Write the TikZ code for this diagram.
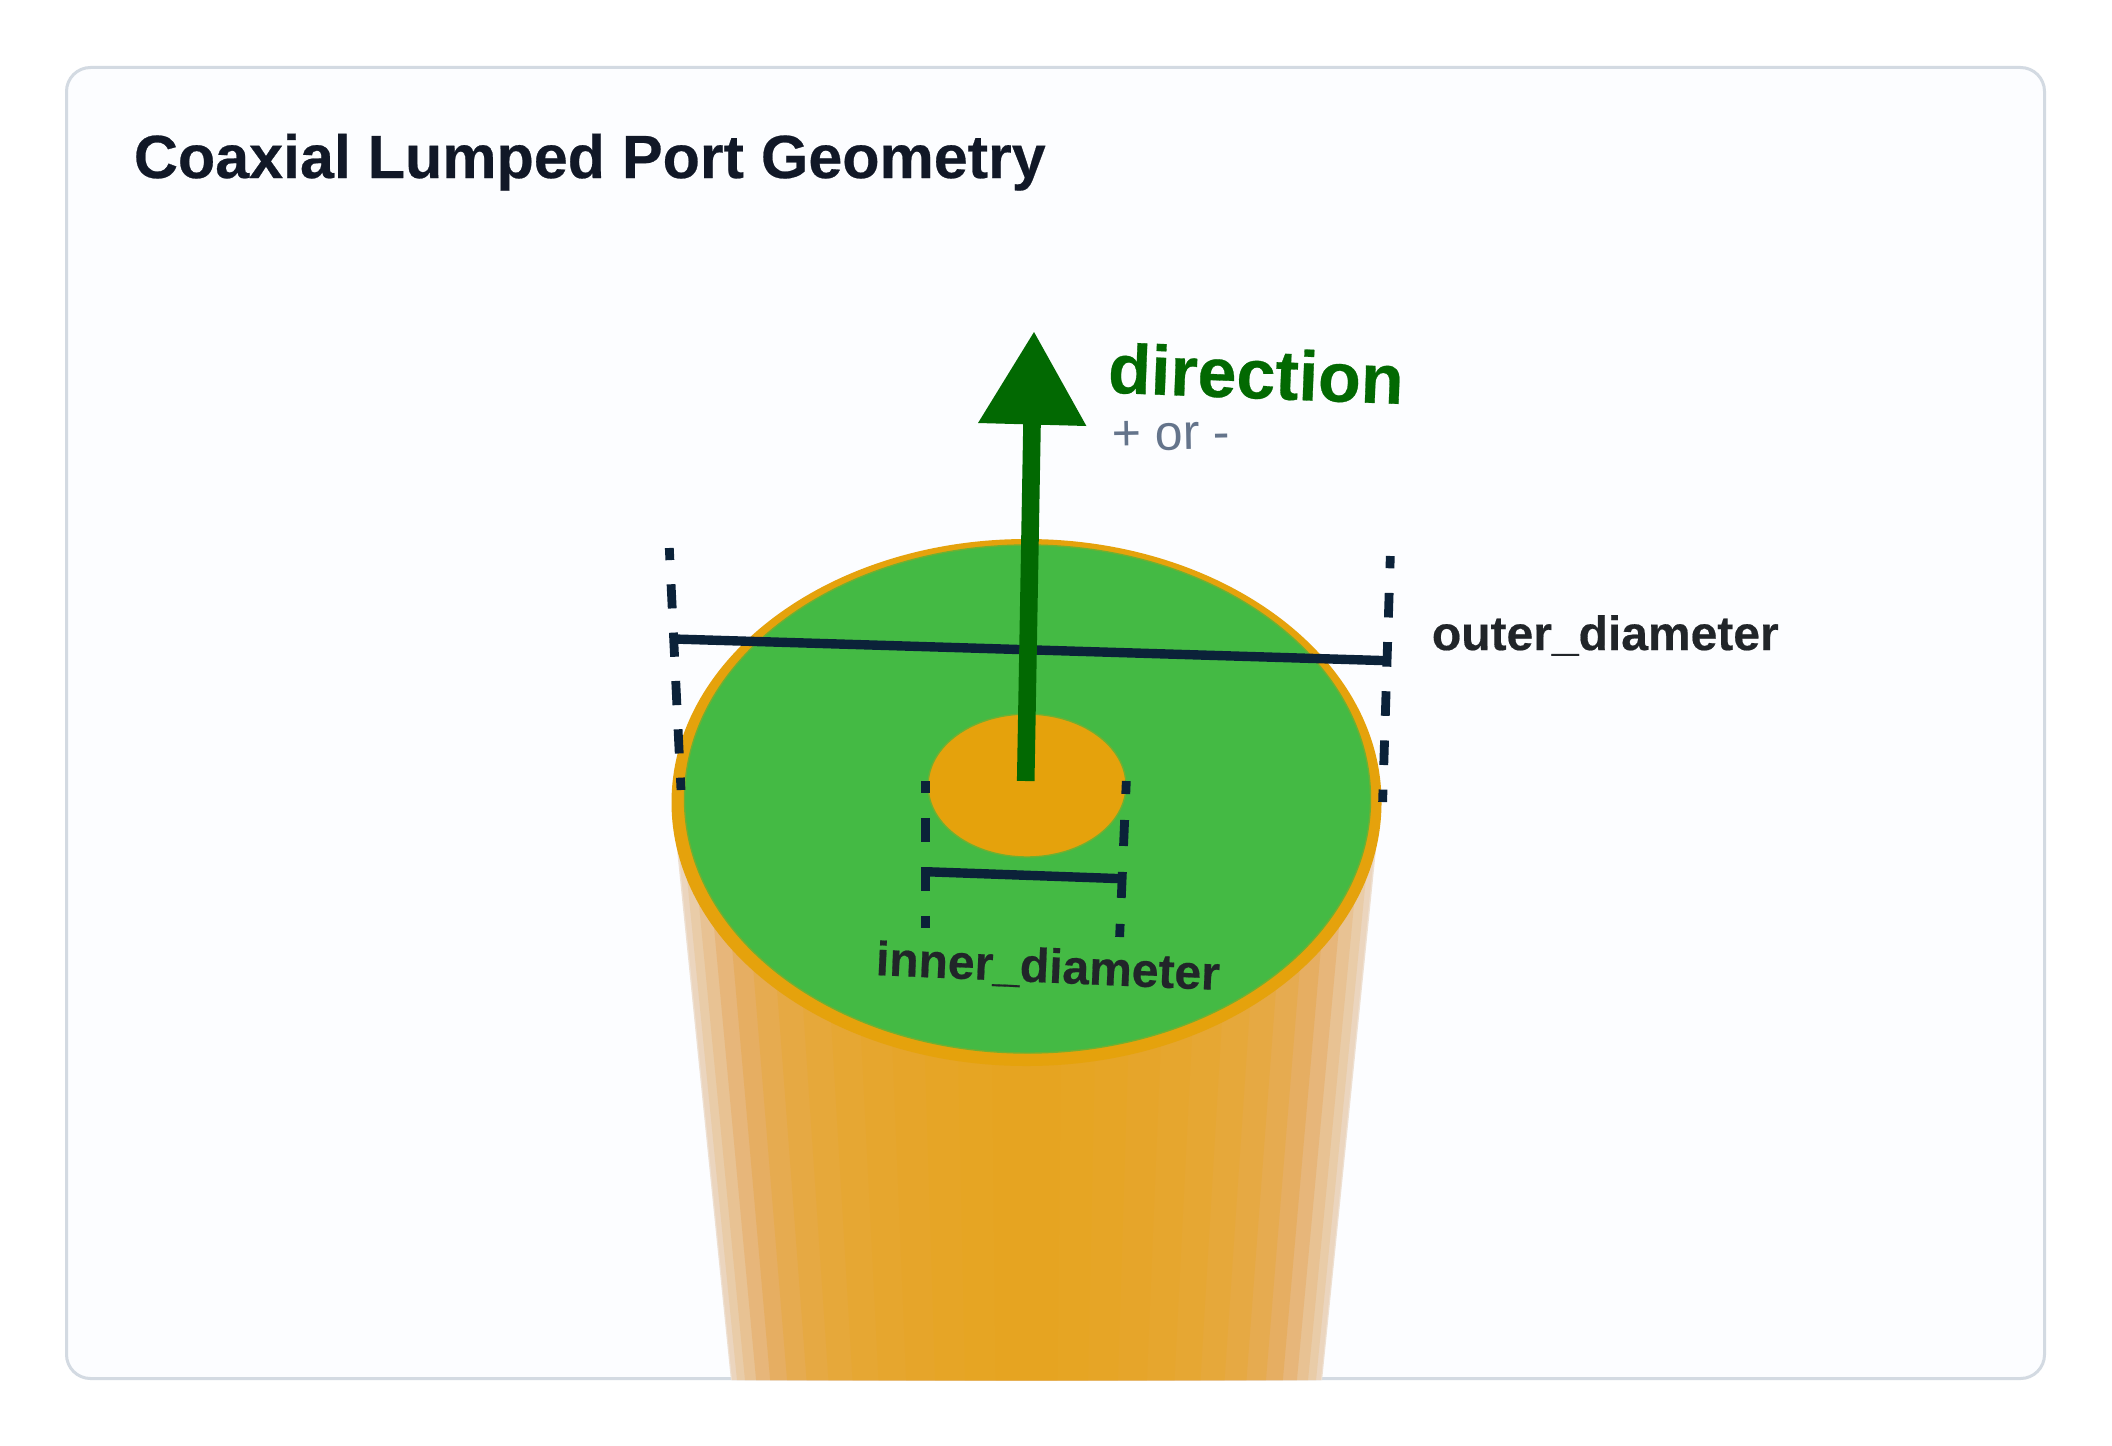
\documentclass[tikz,border=0pt]{standalone}
\usepackage{fontspec}
\setmainfont{Liberation Sans}
\newfontfamily\heavyfont[BoldFont={Liberation Sans Bold},BoldFeatures={FakeBold=0.4}]{Liberation Sans}
\definecolor{cardfill}{HTML}{FCFDFF}
\definecolor{cardline}{HTML}{D3DAE2}
\definecolor{copper}{HTML}{E5A20C}
\definecolor{gapgreen}{HTML}{44BA44}
\definecolor{gapedge}{HTML}{6FB030}
\definecolor{arrowgreen}{HTML}{026902}
\definecolor{dimnavy}{HTML}{0B2239}
\definecolor{labelink}{HTML}{212529}
\definecolor{subink}{HTML}{64748B}
\definecolor{titleink}{HTML}{111827}
\tikzset{
  card/.style={draw=cardline,line width=1.5pt,fill=cardfill,rounded corners=12pt},
  dimline/.style={draw=dimnavy,line width=4.4pt},
  dimmain/.style={draw=dimnavy,line width=4.7pt},
  titletext/.style={inner sep=0pt,anchor=base west,text=titleink,font=\heavyfont\fontsize{30.5}{34}\selectfont\bfseries},
  dimtext/.style={inner sep=0pt,anchor=base west,text=labelink,font=\heavyfont\fontsize{24}{28}\selectfont\bfseries},
  dirtext/.style={inner sep=0pt,anchor=base west,text=arrowgreen,font=\heavyfont\fontsize{35}{38}\selectfont\bfseries},
  subtext/.style={inner sep=0pt,anchor=base west,text=subink,font=\fontsize{25}{28}\selectfont},
}
\begin{document}
\begin{tikzpicture}[x=0.5pt,y=-0.5pt]
\useasboundingbox (0,0) rectangle (2112,1445);
\fill[white] (0,0) rectangle (2112,1445);
\draw[card] (66.5,67.5) rectangle (2044.5,1378.5);
% cylinder: nested trapezoids, lightest outside
\foreach \th/\hx in {87/EEE0D2,84/EBD5BE,78/E9CCA8,72/E8C293,66/E7B67A,60/E6AE62,54/E6AB50,48/E6A943,42/E6A83A,36/E6A733,30/E6A62E,24/E6A52A,18/E6A526,12/E6A523,6/E6A421}{
  \pgfmathsetmacro{\sn}{sin(\th)}
  \pgfmathsetmacro{\xt}{355*\sn}
  \pgfmathsetmacro{\xb}{296*\sn}
  \definecolor{stripc}{HTML}{\hx}
  \fill[stripc] (1026.5-\xt,800) -- (1026.5+\xt,800) -- (1026.5+\xb,1380) -- (1026.5-\xb,1380) -- cycle;
}
% end face
\fill[copper] (1026.5,802.5) ellipse [x radius=355,y radius=263.5];
\filldraw[fill=gapgreen,draw=gapedge,line width=0.7pt] (1027.5,799) ellipse [x radius=343,y radius=254];
\filldraw[fill=copper,draw=gapedge,line width=0.7pt] (1027,785.5) ellipse [x radius=99,y radius=71.5];
% outer dimension
\coordinate (oa) at (669.3,548);
\coordinate (ob) at (681,790);
\coordinate (oc) at (1390.3,556);
\coordinate (od) at (1382.6,802);
\coordinate (oe) at (673.7,639);
\coordinate (of) at (1387.4,660.7);
\draw[dimline,dash pattern=on 12.1pt off 12.1pt,dash phase=6.05pt] (oa) -- (ob);
\draw[dimline,dash pattern=on 12.3pt off 12.3pt,dash phase=6.15pt] (oc) -- (od);
\draw[dimmain] (oe) -- (of);
% inner dimension
\coordinate (ia) at (925.7,781);
\coordinate (ib) at (925.7,928);
\coordinate (ic) at (1126.3,781);
\coordinate (id) at (1119.6,937);
\coordinate (ie) at (925.7,871.7);
\coordinate (if) at (1122,878.7);
\draw[dimline,dash pattern=on 12.25pt off 12.25pt,dash phase=6.12pt] (ia) -- (ib);
\draw[dimline,dash pattern=on 13pt off 13pt,dash phase=6.5pt] (ic) -- (id);
\draw[dimmain] (ie) -- (if);
% direction arrow
\coordinate (at) at (1025.7,781);
\coordinate (ah) at (1032,424);
\coordinate (al) at (978,423);
\coordinate (ar) at (1086.4,426);
\coordinate (ap) at (1034,332);
\draw[arrowgreen,line width=8.8pt] (at) -- (ah);
\fill[arrowgreen] (ap) -- (al) -- (ar) -- cycle;
% labels
\node[titletext] (title) at (133.5,178) {Coaxial Lumped Port Geometry};
\node[dirtext,rotate=-2.2] (dirlabel) at (1107,392.7) {direction};
\node[subtext,rotate=1] (sublabel) at (1112,451) {+ or -};
\node[dimtext] (outerlabel) at (1431.5,650) {outer\_diameter};
\node[dimtext,rotate=-2.5] (innerlabel) at (875,975) {inner\_diameter};
\end{tikzpicture}
\end{document}
